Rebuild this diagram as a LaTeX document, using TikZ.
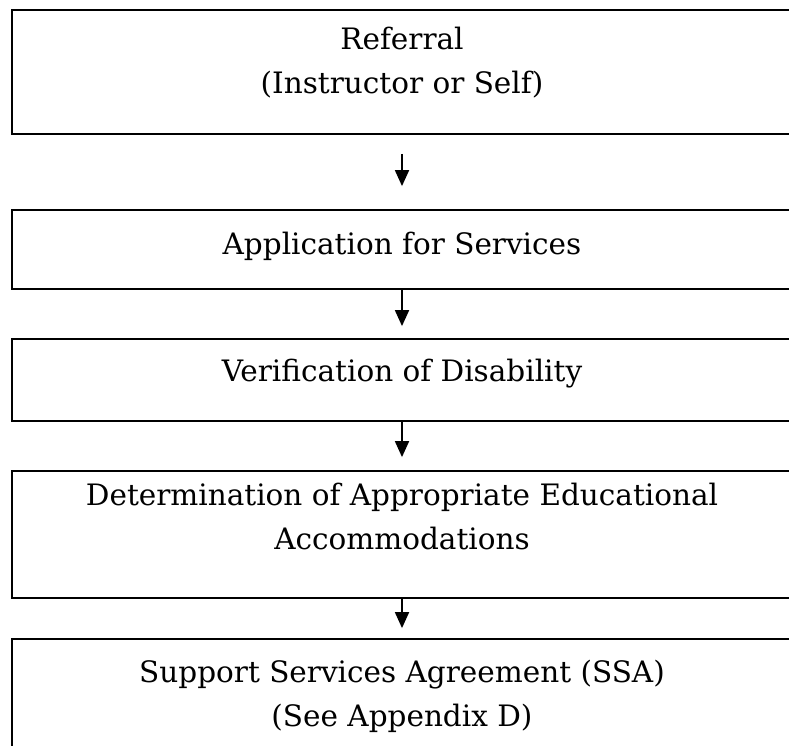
\documentclass[tikz,border=0pt]{standalone}
\usepackage{fontspec}
\setmainfont{DejaVu Serif}
\usetikzlibrary{arrows.meta}

\tikzset{
	stage/.style={draw, line width=1.8pt, minimum width=780pt, align=center,
		font=\fontsize{29.5}{44}\selectfont},
	lift/.style={text depth=#1},
	flow/.style={line width=1.8pt, -{Triangle[length=16pt,width=14pt]}}
}

\begin{document}
\begin{tikzpicture}[x=1pt,y=1pt]
		\clip (0,0) rectangle (789,-746);
		\node[stage, minimum height=124pt, lift=24pt] (referral) at (402,-72) {Referral\\(Instructor or Self)};
		\node[stage, minimum height=79pt, lift=12pt] (application) at (402,-249.5) {Application for Services};
		\node[stage, minimum height=82pt, lift=20pt] (verification) at (402,-380) {Verification of Disability};
		\node[stage, minimum height=127pt, lift=36pt] (determination) at (402,-534.5) {Determination of Appropriate Educational\\Accommodations};
		\node[stage, minimum height=127pt, lift=18pt] (agreement) at (402,-702.5) {Support Services Agreement (SSA)\\(See Appendix D)};
		\draw[flow, shorten <=19pt, shorten >=23pt] (referral) -- (application);
		\draw[flow, shorten >=12pt] (application) -- (verification);
		\draw[flow, shorten >=13pt] (verification) -- (determination);
		\draw[flow, shorten >=10pt] (determination) -- (agreement);
	\end{tikzpicture}
\end{document}
